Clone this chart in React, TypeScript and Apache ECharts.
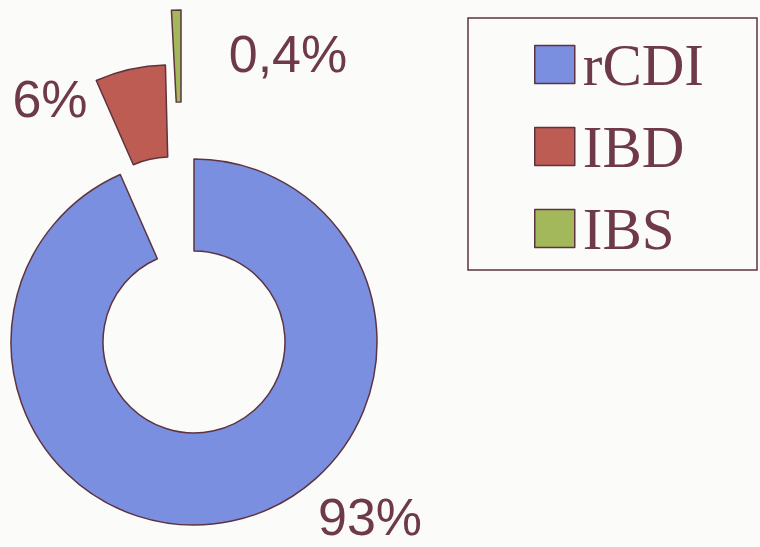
import React, { useEffect, useRef } from "react";
import * as echarts from "echarts";

const categories = ["rCDI", "IBD", "IBS"];
const values = [93.4, 6.2, 0.4];
const labels = ["93%", "6%", "0,4%"];
const colors = ["#7b8fe0", "#bd5c52", "#a3b85a"];

export default function App() {
  const ref = useRef<HTMLDivElement>(null);
  useEffect(() => {
    if (!ref.current) return;
    const chart = echarts.init(ref.current, null, { renderer: "svg" });
    const border = "#5e3340";
    const textColor = "#6e3a48";
    const centers: [number, number][] = [
      [194, 342],
      [170, 248],
      [181, 193],
    ];
    const minAngles = [0, 0, 3];
    const labelPos: [number, number][] = [
      [370, 517],
      [50, 99],
      [288, 54],
    ];
    const series = categories.map((_, owner) => ({
      type: "pie",
      name: "s" + owner,
      radius: [91, 183],
      center: centers[owner],
      startAngle: 90,
      clockwise: true,
      minAngle: minAngles[owner],
      avoidLabelOverlap: false,
      silent: true,
      label: { show: false },
      labelLine: { show: false },
      data: categories.map((name, i) => ({
        name,
        value: values[i],
        itemStyle:
          i === owner
            ? { color: colors[i], borderColor: border, borderWidth: 1.5 }
            : { color: "rgba(0,0,0,0)", borderWidth: 0 },
      })),
    }));
    chart.setOption({
      animation: false,
      backgroundColor: "#fbfbf9",
      legend: {
        show: true,
        orient: "vertical",
        left: 534,
        top: 35,
        width: 220,
        height: 400,
        padding: 0,
        itemGap: 23,
        itemWidth: 40,
        itemHeight: 38,
        selectedMode: false,
        data: categories.map((name, i) => ({
          name,
          icon: "rect",
          itemStyle: { color: colors[i], borderColor: border, borderWidth: 1.5 },
        })),
        textStyle: {
          fontFamily: "Liberation Serif",
          fontSize: 59,
          color: textColor,
          padding: [4, 0, 0, 3],
        },
      },
      graphic: [
        {
          type: "rect",
          shape: { x: 468, y: 18, width: 289, height: 252 },
          style: { fill: "none", stroke: border, lineWidth: 1.5 },
          silent: true,
        },
        ...labels.map((t, i) => ({
          type: "text",
          x: labelPos[i][0],
          y: labelPos[i][1],
          style: {
            text: t,
            fontFamily: "Liberation Sans",
            fontSize: 52,
            fill: textColor,
            align: "center",
            verticalAlign: "middle",
          },
        })),
      ],
      series,
    });
    return () => chart.dispose();
  }, []);
  return (
    <div
      ref={ref}
      style={{ position: "fixed", left: 0, top: 0, width: 760, height: 547 }}
    />
  );
}
